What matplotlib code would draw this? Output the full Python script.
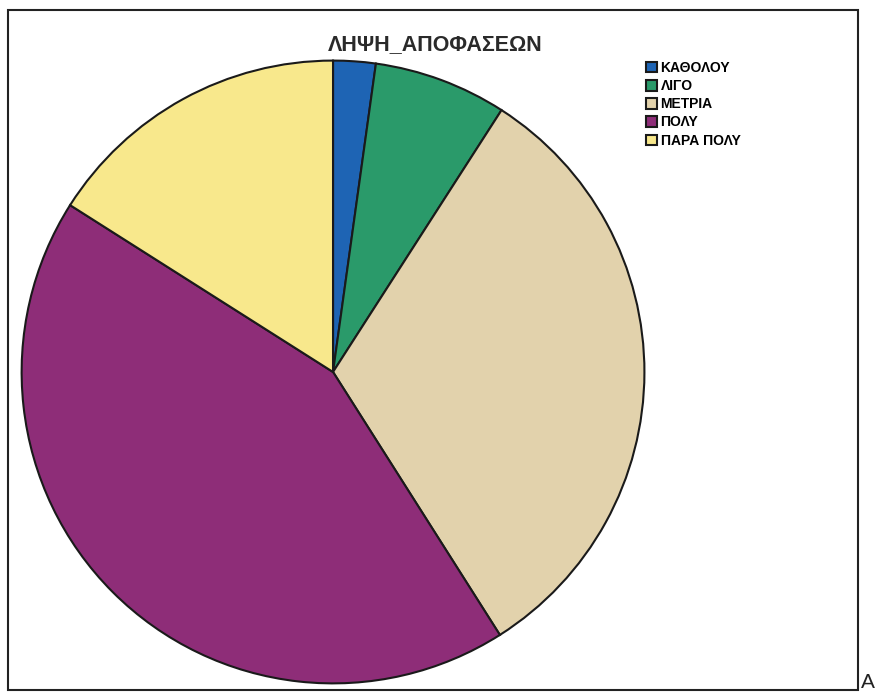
import matplotlib.pyplot as plt
from matplotlib.patches import Rectangle

labels = ['ΚΑΘΟΛΟΥ', 'ΛΙΓΟ', 'ΜΕΤΡΙΑ', 'ΠΟΛΥ', 'ΠΑΡΑ ΠΟΛΥ']
values = [2.2, 6.9, 31.9, 43.0, 16.0]
colors = ['#1e64b4', '#2a9a6a', '#e2d2ac', '#8e2d78', '#f8e88c']

plt.rcParams['font.family'] = ['Liberation Sans', 'DejaVu Sans']

fig = plt.figure(figsize=(8.75, 6.97), dpi=100)
fig.patch.set_facecolor('white')

# outer frame of the chart
fig.patches.append(Rectangle((0.0091, 0.010), 0.9715, 0.9757, transform=fig.transFigure,
                             fill=False, edgecolor='#222222', linewidth=1.5))

ax = fig.add_axes([0.0229, 0.0173, 0.7154, 0.898])
wedges, _ = ax.pie(values, colors=colors, startangle=90, counterclock=False,
                   wedgeprops=dict(edgecolor='#1a1a1a', linewidth=1.5))
ax.set_xlim(-1.005, 1.005)
ax.set_ylim(-1.005, 1.005)
ax.set_aspect('equal')

fig.text(435 / 875, 1 - 45 / 697, 'ΛΗΨΗ_ΑΠΟΦΑΣΕΩΝ', ha='center', va='center',
         fontsize=15.5, fontweight='bold', color='#2a2a2a')

fig.legend(wedges, labels, loc='upper left', bbox_to_anchor=(646 / 875, 1 - 61 / 697),
           frameon=False, handlelength=0.8, handleheight=0.8,
           handletextpad=0.25, labelspacing=0.3, borderpad=0, borderaxespad=0,
           prop=dict(weight='bold', size=10))

fig.text(861 / 875, 1 - 683 / 697, 'Α', ha='left', va='center', fontsize=15, color='#222222')

fig.savefig('out.png', dpi=100)
